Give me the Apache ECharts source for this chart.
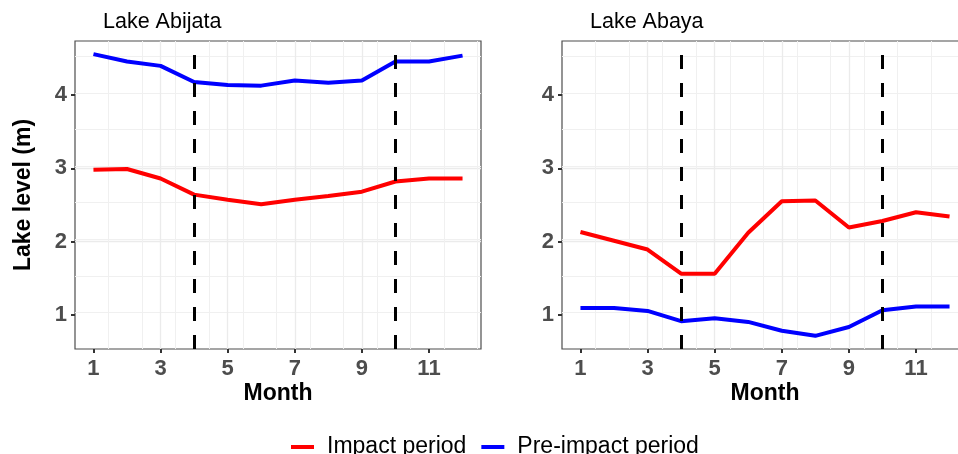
<!DOCTYPE html>
<html><head><meta charset="utf-8">
<script src="https://cdn.jsdelivr.net/npm/echarts@6/dist/echarts.min.js"></script>
<style>html,body{margin:0;padding:0;background:#fff}#c{width:958px;height:454px}</style>
</head><body><div id="c"></div>
<script>
const months = [1,2,3,4,5,6,7,8,9,10,11,12];
const panelTitles = ['Lake Abijata','Lake Abaya'];
const seriesNames = ['Impact period','Pre-impact period'];
const abijataImpact = [2.98,2.99,2.86,2.64,2.57,2.51,2.57,2.62,2.68,2.82,2.86,2.86];
const abijataPre    = [4.56,4.46,4.40,4.18,4.14,4.13,4.20,4.17,4.20,4.46,4.46,4.54];
const abayaImpact   = [2.13,2.01,1.89,1.56,1.56,2.12,2.55,2.56,2.19,2.28,2.40,2.34];
const abayaPre      = [1.09,1.09,1.05,0.91,0.95,0.90,0.78,0.71,0.83,1.06,1.11,1.11];
const xTickLabels = [1,3,5,7,9,11];
const yTickLabels = [1,2,3,4];
const dashedMonths = [4,10];

const FONT = '"Liberation Sans", Arial, sans-serif';
const panels = [[abijataImpact, abijataPre],[abayaImpact, abayaPre]];
const colors = ['#FF0000','#0000FF'];
const gridLefts = [75, 562];
const X_MIN = 0.45, X_MAX = 12.55, Y_MIN = 0.53, Y_MAX = 4.74;

const chart = echarts.init(document.getElementById('c'), null, {renderer:'canvas'});
const grids = [], xAxes = [], yAxes = [], series = [], graphics = [];
const tickStyle = {show: true, length: 4, lineStyle: {color: '#333', width: 2}};
const labelStyle = {color: '#4D4D4D', fontWeight: 'bold', fontSize: 22, fontFamily: FONT};
panels.forEach((vals, g) => {
  grids.push({left: gridLefts[g], top: 41, width: 406, height: 308, show: true,
    outerBoundsMode: 'none', containLabel: false,
    borderColor: '#4d4d4d', borderWidth: 1.2, backgroundColor: '#fff'});
  xAxes.push({gridIndex: g, type: 'value', min: X_MIN, max: X_MAX, interval: 1, position: 'bottom',
    axisLine: {show: false},
    axisTick: Object.assign({customValues: xTickLabels}, tickStyle),
    axisLabel: Object.assign({customValues: xTickLabels, margin: 9}, labelStyle),
    splitLine: {show: true, showMinLine: false, showMaxLine: false, lineStyle: {color: '#EBEBEB', width: 1.3}}
  });
  xAxes.push({gridIndex: g, type: 'value', min: X_MIN, max: X_MAX, interval: 1, position: 'top',
    axisLine: {show: false}, axisTick: {show: false}, axisLabel: {show: false},
    splitLine: {show: true, showMinLine: false, showMaxLine: false, lineStyle: {color: '#F0F0F0', width: 1}}
  });
  yAxes.push({gridIndex: g, type: 'value', min: Y_MIN, max: Y_MAX, interval: 0.5, position: 'left',
    axisLine: {show: false},
    axisTick: Object.assign({customValues: yTickLabels}, tickStyle),
    axisLabel: Object.assign({customValues: yTickLabels, margin: 8}, labelStyle),
    splitLine: {show: true, showMinLine: false, showMaxLine: false, lineStyle: {color: '#EBEBEB', width: 1.3}}
  });
  yAxes.push({gridIndex: g, type: 'value', min: Y_MIN, max: Y_MAX, interval: 0.5, position: 'right',
    axisLine: {show: false}, axisTick: {show: false}, axisLabel: {show: false},
    splitLine: {show: true, showMinLine: false, showMaxLine: false, lineStyle: {color: '#F0F0F0', width: 1}}
  });
  vals.forEach((arr, s) => {
    const ser = {type: 'line', name: seriesNames[s], xAxisIndex: 2*g, yAxisIndex: 2*g,
      data: months.map((m, i) => [m, arr[i]]), showSymbol: false, symbol: 'none',
      lineStyle: {color: colors[s], width: 4}, itemStyle: {color: colors[s]}, z: 3, silent: true};
    if (s === 0) {
      ser.markLine = {silent: true, symbol: 'none', label: {show: false},
        lineStyle: {color: '#000', width: 3, type: [14, 14]},
        data: dashedMonths.map(m => ({xAxis: m}))};
    }
    series.push(ser);
  });
  graphics.push({type: 'text', left: gridLefts[g] + 28, top: 11,
    style: {text: panelTitles[g], font: '21.5px ' + FONT, fill: '#000'}});
  graphics.push({type: 'text', x: gridLefts[g] + 203, y: 394,
    style: {text: 'Month', font: 'bold 23px ' + FONT, fill: '#000', align: 'center', verticalAlign: 'middle'}});
});
graphics.push({type: 'text', x: 23.5, y: 195, rotation: Math.PI/2,
  style: {text: 'Lake level (m)', font: 'bold 23px ' + FONT, fill: '#000', align: 'center', verticalAlign: 'middle'}});

chart.setOption({
  animation: false,
  backgroundColor: '#fff',
  grid: grids, xAxis: xAxes, yAxis: yAxes, series: series,
  graphic: graphics,
  legend: {left: 286, top: 429, itemWidth: 23, itemHeight: 4, itemGap: 15, icon: 'rect',
    data: seriesNames, textStyle: {fontSize: 23, fontFamily: FONT, color: '#000', padding: [0,0,0,8], lineHeight: 26}}
});
</script></body></html>
